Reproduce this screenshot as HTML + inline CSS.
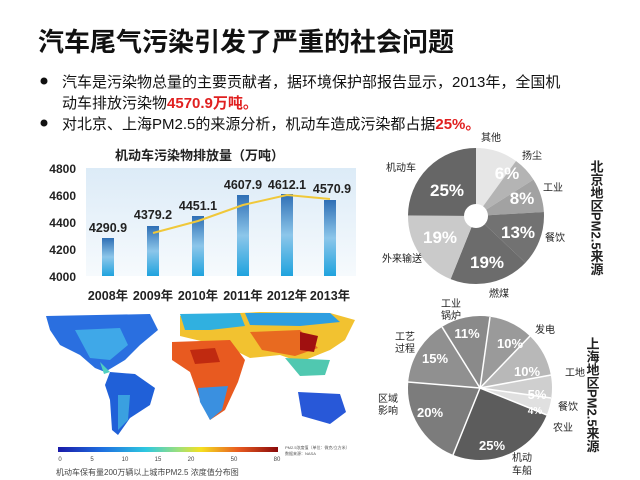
<!DOCTYPE html>
<html><head><meta charset="utf-8"><style>
body{margin:0;width:640px;height:480px;background:#fff;overflow:hidden;font-family:"Liberation Sans","Noto Sans CJK SC",sans-serif;}
svg{position:absolute;left:0;top:0}
</style></head><body>
<svg width="640" height="480" viewBox="0 0 640 480" font-family="Liberation Sans, Noto Sans CJK SC, sans-serif">
<defs>
<linearGradient id="bar" x1="0" y1="0" x2="0" y2="1"><stop offset="0" stop-color="#2f6fb5"/><stop offset="0.5" stop-color="#8cc6ea"/><stop offset="1" stop-color="#1fa3de"/></linearGradient>
<linearGradient id="bg" x1="0" y1="0" x2="0" y2="1"><stop offset="0" stop-color="#dcebf7"/><stop offset="1" stop-color="#f6fafd"/></linearGradient>
<linearGradient id="cb" x1="0" y1="0" x2="1" y2="0"><stop offset="0" stop-color="#1a1aa8"/><stop offset="0.2" stop-color="#1e6fe0"/><stop offset="0.4" stop-color="#2ec8e0"/><stop offset="0.55" stop-color="#9ee07a"/><stop offset="0.65" stop-color="#f5e020"/><stop offset="0.82" stop-color="#e85a20"/><stop offset="1" stop-color="#8a0a0a"/></linearGradient>
</defs>
<text x="38" y="51" font-size="26" font-weight="bold" fill="#111">汽车尾气污染引发了严重的社会问题</text>
<g font-size="15" fill="#111">
<circle cx="44" cy="81" r="3.5" fill="#111"/>
<text x="62" y="87">汽车是污染物总量的主要贡献者，据环境保护部报告显示，2013年，全国机</text>
<text x="62" y="108">动车排放污染物<tspan fill="#e02020" font-weight="bold">4570.9万吨。</tspan></text>
<circle cx="44" cy="123" r="3.5" fill="#111"/>
<text x="62" y="129">对北京、上海PM2.5的来源分析，机动车造成污染都占据<tspan fill="#e02020" font-weight="bold">25%。</tspan></text>
</g>
<!-- bar chart -->
<text x="115" y="160" font-size="13" font-weight="bold" fill="#222">机动车污染物排放量（万吨）</text>
<rect x="86" y="168" width="270" height="108" fill="url(#bg)"/>
<g font-size="12" font-weight="bold" fill="#222" text-anchor="end">
<text x="76" y="173">4800</text><text x="76" y="200">4600</text><text x="76" y="227">4400</text><text x="76" y="254">4200</text><text x="76" y="281">4000</text>
</g>
<g fill="url(#bar)">
<rect x="102" y="238" width="12" height="38"/>
<rect x="147" y="226" width="12" height="50"/>
<rect x="192" y="216" width="12" height="60"/>
<rect x="237" y="195" width="12" height="81"/>
<rect x="281" y="194" width="12" height="82"/>
<rect x="324" y="200" width="12" height="76"/>
</g>
<polyline points="153,233 198,221 243,205 287,195 330,199" fill="none" stroke="#f0c83a" stroke-width="2"/>
<g font-size="12.5" font-weight="bold" fill="#222" text-anchor="middle">
<text x="108" y="232">4290.9</text><text x="153" y="219">4379.2</text><text x="198" y="210">4451.1</text>
<text x="243" y="189">4607.9</text><text x="287" y="189">4612.1</text><text x="332" y="193">4570.9</text>
</g>
<g font-size="12.5" font-weight="bold" fill="#222" text-anchor="middle">
<text x="108" y="300">2008年</text><text x="153" y="300">2009年</text><text x="198" y="300">2010年</text>
<text x="243" y="300">2011年</text><text x="287" y="300">2012年</text><text x="330" y="300">2013年</text>
</g>
<!-- map -->
<g>
<path d="M46,316 L150,314 L158,330 L140,345 L125,360 L105,372 L95,368 L80,355 L60,345 L50,330 Z" fill="#2a6fe0"/>
<path d="M75,330 L120,328 L128,345 L110,360 L90,358 Z" fill="#3fa8e8"/>
<path d="M100,362 L110,372 L104,374 Z" fill="#50d0c0"/>
<path d="M110,372 L135,374 L155,388 L150,405 L130,418 L118,435 L112,430 L110,400 L105,385 Z" fill="#2060d8"/>
<path d="M118,395 L130,395 L128,420 L118,430 Z" fill="#3aa0e0"/>
<path d="M180,316 L260,312 L330,313 L355,320 L345,340 L330,350 L300,362 L280,355 L250,358 L230,348 L205,342 L180,336 Z" fill="#f2c230"/>
<path d="M180,314 L240,313 L245,326 L210,330 L185,330 Z" fill="#30b0e0"/>
<path d="M245,313 L330,313 L340,322 L300,326 L250,325 Z" fill="#2e9ee0"/>
<path d="M250,332 L300,330 L318,348 L295,356 L262,350 Z" fill="#e86a20"/>
<path d="M300,332 L318,336 L314,352 L300,350 Z" fill="#a01010"/>
<path d="M172,342 L230,340 L245,360 L238,382 L225,410 L210,420 L200,400 L190,372 L172,360 Z" fill="#e85a20"/>
<path d="M190,350 L215,348 L220,362 L195,364 Z" fill="#c02a10"/>
<path d="M198,388 L228,386 L222,410 L210,420 L200,402 Z" fill="#3a90e0"/>
<path d="M298,392 L340,394 L346,412 L330,424 L302,416 Z" fill="#2858d8"/>
<path d="M285,358 L330,360 L325,375 L300,376 Z" fill="#50c8b0"/>
</g>
<rect x="58" y="447" width="220" height="5" fill="url(#cb)"/>
<g font-size="6" fill="#444" text-anchor="middle">
<text x="60" y="461">0</text><text x="92" y="461">5</text><text x="125" y="461">10</text><text x="158" y="461">15</text><text x="191" y="461">20</text><text x="234" y="461">50</text><text x="277" y="461">80</text>
</g>
<text x="285" y="449" font-size="4" fill="#555">PM2.5浓度值（单位：微克/立方米）</text>
<text x="285" y="455" font-size="4" fill="#555">数据来源：NASA</text>
<text x="56" y="475" font-size="8" fill="#444">机动车保有量200万辆以上城市PM2.5 浓度值分布图</text>
<!-- Beijing pie -->
<g transform="translate(476,216) rotate(-90)" fill="none" stroke-width="68">
<circle r="34" stroke="#e6e6e6" stroke-dasharray="21.36 300" stroke-dashoffset="0"/>
<circle r="34" stroke="#b4b4b4" stroke-dasharray="12.82 300" stroke-dashoffset="-21.36"/>
<circle r="34" stroke="#a2a2a2" stroke-dasharray="17.09 300" stroke-dashoffset="-34.18"/>
<circle r="34" stroke="#727272" stroke-dasharray="27.77 300" stroke-dashoffset="-51.27"/>
<circle r="34" stroke="#6c6c6c" stroke-dasharray="40.59 300" stroke-dashoffset="-79.04"/>
<circle r="34" stroke="#cacaca" stroke-dasharray="40.59 300" stroke-dashoffset="-119.63"/>
<circle r="34" stroke="#666666" stroke-dasharray="53.41 300" stroke-dashoffset="-160.22"/>
</g>
<circle cx="476" cy="216" r="12" fill="#fff"/>
<g font-size="17" font-weight="bold" fill="#fff" text-anchor="middle">
<text x="447" y="196">25%</text><text x="507" y="179">6%</text><text x="522" y="204">8%</text>
<text x="518" y="238">13%</text><text x="487" y="268">19%</text><text x="440" y="243">19%</text>
</g>
<g font-size="10" fill="#222">
<text x="481" y="141">其他</text><text x="522" y="159">扬尘</text><text x="543" y="191">工业</text>
<text x="545" y="241">餐饮</text><text x="489" y="297">燃煤</text><text x="382" y="262">外来输送</text><text x="386" y="171">机动车</text>
</g>
<text font-size="13" font-weight="bold" fill="#222" x="596" y="160" style="writing-mode:vertical-rl">北京地区PM2.5来源</text>
<!-- Shanghai pie -->
<g transform="translate(480,388) rotate(-82)" fill="none" stroke-width="72">
<circle r="36" stroke="#9a9a9a" stroke-dasharray="22.62 300" stroke-dashoffset="0"/>
<circle r="36" stroke="#b8b8b8" stroke-dasharray="22.62 300" stroke-dashoffset="-22.62"/>
<circle r="36" stroke="#cfcfcf" stroke-dasharray="11.31 300" stroke-dashoffset="-45.24"/>
<circle r="36" stroke="#e0e0e0" stroke-dasharray="9.05 300" stroke-dashoffset="-56.55"/>
<circle r="36" stroke="#5c5c5c" stroke-dasharray="56.55 300" stroke-dashoffset="-65.6"/>
<circle r="36" stroke="#7c7c7c" stroke-dasharray="45.24 300" stroke-dashoffset="-122.15"/>
<circle r="36" stroke="#909090" stroke-dasharray="33.93 300" stroke-dashoffset="-167.39"/>
<circle r="36" stroke="#8a8a8a" stroke-dasharray="24.88 300" stroke-dashoffset="-201.32"/>
</g>
<g stroke="#fff" stroke-width="1.5">
<line x1="480" y1="388" x2="490" y2="317"/><line x1="480" y1="388" x2="530" y2="336"/>
<line x1="480" y1="388" x2="551" y2="375"/><line x1="480" y1="388" x2="551" y2="398"/>
<line x1="480" y1="388" x2="547" y2="415"/><line x1="480" y1="388" x2="453" y2="455"/>
<line x1="480" y1="388" x2="408" y2="382"/><line x1="480" y1="388" x2="442" y2="327"/>
</g>
<g font-size="13" font-weight="bold" fill="#fff" text-anchor="middle">
<text x="467" y="338">11%</text><text x="510" y="348">10%</text><text x="527" y="376">10%</text>
<text x="537" y="399">5%</text><text x="535" y="414" font-size="10">4%</text><text x="492" y="450">25%</text>
<text x="430" y="417">20%</text><text x="435" y="363">15%</text>
</g>
<g font-size="10" fill="#222">
<text x="441" y="307">工业</text><text x="441" y="319">锅炉</text>
<text x="535" y="333">发电</text><text x="565" y="376">工地</text><text x="558" y="410">餐饮</text><text x="553" y="431">农业</text>
<text x="512" y="461">机动</text><text x="512" y="474">车船</text>
<text x="378" y="402">区域</text><text x="378" y="414">影响</text>
<text x="395" y="340">工艺</text><text x="395" y="352">过程</text>
</g>
<text font-size="13" font-weight="bold" fill="#222" x="592" y="337" style="writing-mode:vertical-rl">上海地区PM2.5来源</text>
</svg>
</body></html>
